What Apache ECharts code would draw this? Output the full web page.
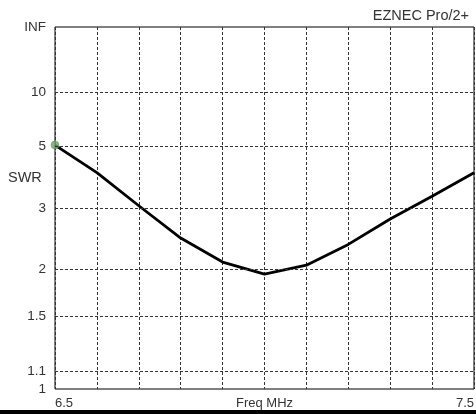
<!DOCTYPE html>
<html>
<head>
<meta charset="utf-8">
<script src="https://cdn.jsdelivr.net/npm/echarts@6/dist/echarts.min.js"></script>
<style>
  html, body { margin: 0; padding: 0; background: #fff; }
  #chart { width: 476px; height: 414px; }
</style>
</head>
<body>
<div id="chart"></div>
<script>
// frequency points (MHz) and SWR
const freqs = [6.5, 6.6, 6.7, 6.8, 6.9, 7.0, 7.1, 7.2, 7.3, 7.4, 7.5];
const swrValues = [5.13, 3.97, 3.05, 2.43, 2.08, 1.93, 2.04, 2.33, 2.77, 3.28, 3.97];
// SWR tick labels on the left side
const swrTicks = ["INF", "10", "5", "3", "2", "1.5", "1.1", "1"];

// EZNEC draws SWR on a reflection coefficient scale
const toRho = (s) => (s === "INF" ? 1 : (Number(s) - 1) / (Number(s) + 1));

const points = freqs.map((f, i) => [f, toRho(swrValues[i])]);

const gridLines = swrTicks.map((t) => ({
  yAxis: toRho(t),
  label: { formatter: t },
  lineStyle: (t === "INF" || t === "1") ? { color: "rgba(0,0,0,0)" } : undefined,
}));

const textColor = "#333";
const font = "Liberation Sans, Arial, sans-serif";

const chart = echarts.init(document.getElementById("chart"));
chart.setOption({
  animation: false,
  title: {
    text: "EZNEC Pro/2+",
    right: 2,
    top: 3,
    textStyle: { fontSize: 14.5, fontWeight: "normal", color: textColor, fontFamily: font },
  },
  grid: {
    left: 55,
    top: 27,
    right: 2,
    bottom: 25,
    outerBoundsMode: "none",
    containLabel: false,
    show: true,
    borderColor: "#000",
    borderWidth: 1,
  },
  xAxis: {
    type: "value",
    min: 6.5,
    max: 7.5,
    interval: 0.1,
    name: "Freq MHz",
    nameLocation: "middle",
    nameGap: 8,
    nameMoveOverlap: false,
    nameTextStyle: { color: textColor, fontSize: 13, fontFamily: font, verticalAlign: "top" },
    axisLine: { show: false },
    axisTick: { show: false },
    axisLabel: {
      color: textColor,
      fontSize: 13,
      fontFamily: font,
      margin: 8,
      alignMinLabel: "left",
      alignMaxLabel: "right",
      formatter: (v) => (Math.abs(v - 6.5) < 1e-6 ? "6.5" : Math.abs(v - 7.5) < 1e-6 ? "7.5" : ""),
    },
    splitLine: { lineStyle: { color: "#333", type: [3, 2], width: 1 } },
  },
  yAxis: {
    type: "value",
    min: 0,
    max: 1,
    axisLine: { show: false },
    axisTick: { show: false },
    axisLabel: { show: false },
    splitLine: { show: false },
  },
  graphic: [
    {
      type: "text",
      left: 8,
      top: 170,
      style: { text: "SWR", fill: textColor, fontSize: 14.5, fontFamily: font },
    },
    {
      type: "rect",
      left: 0,
      top: 410,
      shape: { width: 476, height: 4 },
      style: { fill: "#000" },
    },
  ],
  series: [
    {
      type: "line",
      data: points,
      symbol: "none",
      lineStyle: { color: "#000", width: 2.8 },
      markLine: {
        silent: true,
        symbol: "none",
        animation: false,
        lineStyle: { color: "#333", type: [3, 2], width: 1 },
        label: {
          position: "start",
          distance: 9,
          color: textColor,
          fontSize: 13.5,
          fontFamily: font,
        },
        data: gridLines,
      },
      z: 3,
    },
    {
      type: "scatter",
      data: [points[0]],
      symbolSize: 8,
      itemStyle: { color: "#6aa86a", borderColor: "#4a7f4a", borderWidth: 0.5 },
      z: 4,
    },
  ],
});
</script>
</body>
</html>
